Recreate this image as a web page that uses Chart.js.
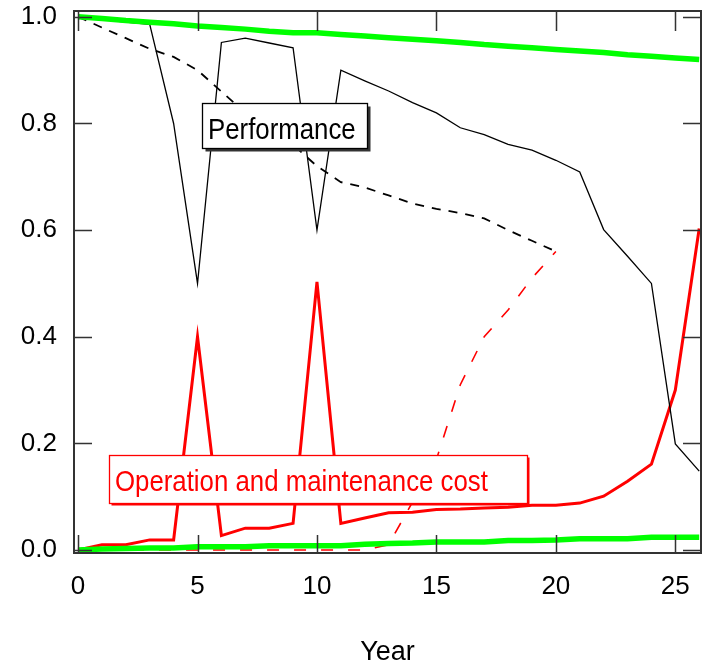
<!DOCTYPE html>
<html>
<head>
<meta charset="utf-8">
<script src="https://cdn.jsdelivr.net/npm/chart.js@4.4.1/dist/chart.umd.min.js"></script>
<style>
  html, body { margin: 0; padding: 0; background: #fff; }
</style>
</head>
<body>
<canvas id="chartPerformance" width="706" height="663"></canvas>
<script>
// Axes
const years = [0, 1, 2, 3, 4, 5, 6, 7, 8, 9, 10, 11, 12, 13, 14, 15, 16, 17, 18, 19, 20, 21, 22, 23, 24, 25, 26];
const xTicks = [0, 5, 10, 15, 20, 25];
const yTicks = [0, 0.2, 0.4, 0.6, 0.8, 1.0];
const yTickLabels = ['0.0', '0.2', '0.4', '0.6', '0.8', '1.0'];

// Series
const greenUpper = [1.0, 0.997, 0.993, 0.99, 0.987, 0.983, 0.98, 0.977, 0.973, 0.97, 0.97, 0.967, 0.964, 0.961,
    0.958, 0.955, 0.952, 0.948, 0.945, 0.942, 0.939, 0.936, 0.933, 0.929, 0.926, 0.923, 0.92];
const greenLower = [0.0, 0.002, 0.003, 0.004, 0.004, 0.006, 0.006, 0.006, 0.008, 0.008, 0.008, 0.008, 0.011, 0.012,
    0.013, 0.015, 0.015, 0.015, 0.018, 0.018, 0.019, 0.021, 0.021, 0.021, 0.024, 0.024, 0.024];
const performance = [1.0, 0.995, 0.99, 0.986, 0.80, 0.50, 0.952, 0.96, 0.951, 0.942, 0.60, 0.90, 0.88, 0.861,
    0.839, 0.82, 0.792, 0.779, 0.761, 0.75, 0.731, 0.709, 0.601, 0.551, 0.50, 0.199, 0.148];
const performanceDashed = [1.0, 0.98, 0.96, 0.94, 0.925, 0.90, 0.86, 0.82, 0.79, 0.76, 0.72, 0.69, 0.68, 0.665,
    0.65, 0.64, 0.632, 0.622, 0.60, 0.58, 0.56];
const omCost = [0.0, 0.01, 0.01, 0.019, 0.019, 0.40, 0.027, 0.041, 0.041, 0.05, 0.503, 0.05, 0.06, 0.07,
    0.071, 0.076, 0.077, 0.079, 0.08, 0.084, 0.084, 0.088, 0.101, 0.129, 0.161, 0.30, 0.603];
const omCostDashed = [0, 0, 0, 0, 0, 0, 0, 0, 0, 0, 0, 0, 0, 0.01, 0.09, 0.17, 0.31, 0.40, 0.45, 0.51, 0.56];

const labelFont = "'Liberation Sans', Arial, sans-serif";

// Zones de texte dans le graphique
const textBoxes = [
    { text: 'Performance', x: 5.18, y: 0.839, w: 165, h: 45, color: '#000000', shadow: '#333333', offset: 3 },
    { text: 'Operation and maintenance cost', x: 1.31, y: 0.179, w: 418, h: 48, color: '#ff0000', shadow: '#ff0000', offset: 2 }
];

function toPoints(values) {
    return values.map((v, i) => ({ x: years[i], y: v }));
}

// Cadre + graduations vers l'intérieur
const framePlugin = {
    id: 'frame',
    afterDatasetsDraw(chart) {
        const { ctx, chartArea: a, scales } = chart;
        ctx.save();
        ctx.strokeStyle = '#333333';
        ctx.lineWidth = 1.5;
        ctx.beginPath();
        xTicks.forEach(v => {
            const px = Math.round(scales.x.getPixelForValue(v)) + 0.5;
            ctx.moveTo(px, a.bottom);
            ctx.lineTo(px, a.bottom - 18);
            ctx.moveTo(px, a.top);
            ctx.lineTo(px, a.top + 20);
        });
        yTicks.forEach(v => {
            const py = Math.round(scales.y.getPixelForValue(v)) + 0.5;
            ctx.moveTo(a.left, py);
            ctx.lineTo(a.left + 18, py);
            ctx.moveTo(a.right, py);
            ctx.lineTo(a.right - 18, py);
        });
        ctx.stroke();
        ctx.lineWidth = 2;
        ctx.strokeRect(a.left, a.top, a.right - a.left, a.bottom - a.top);

        // text boxes (police condensée comme l'original)
        textBoxes.forEach(b => {
            const bx = Math.round(scales.x.getPixelForValue(b.x)) + 0.5;
            const by = Math.round(scales.y.getPixelForValue(b.y)) + 0.5;
            ctx.fillStyle = b.shadow;
            ctx.fillRect(bx + b.offset, by + b.offset, b.w, b.h);
            ctx.fillStyle = '#ffffff';
            ctx.fillRect(bx, by, b.w, b.h);
            ctx.strokeStyle = b.color;
            ctx.lineWidth = 1.3;
            ctx.strokeRect(bx, by, b.w, b.h);
            ctx.save();
            ctx.translate(bx + 5.5, by + 35);
            ctx.scale(0.86, 1);
            ctx.font = '30px ' + labelFont;
            ctx.textBaseline = 'alphabetic';
            ctx.textAlign = 'left';
            ctx.fillStyle = b.color;
            ctx.fillText(b.text, 0, 0);
            ctx.restore();
        });
        ctx.restore();
    }
};

const canvas = document.getElementById('chartPerformance');

new Chart(canvas, {
    type: 'line',
    data: {
        datasets: [
            { data: toPoints(greenUpper), borderColor: '#00ff00', borderWidth: 5.5 },
            { data: toPoints(greenLower), borderColor: '#00ff00', borderWidth: 5.5 },
            { data: toPoints(performance), borderColor: '#000000', borderWidth: 1.3 },
            { data: toPoints(performanceDashed), borderColor: '#000000', borderWidth: 1.8, borderDash: [9, 8] },
            { data: toPoints(omCost), borderColor: '#ff0000', borderWidth: 3 },
            { data: toPoints(omCostDashed), borderColor: '#ff0000', borderWidth: 1.6, borderDash: [12, 15] }
        ]
    },
    options: {
        responsive: false,
        animation: false,
        devicePixelRatio: 1,
        layout: { padding: { top: 11, right: 5, left: 0, bottom: 0 } },
        elements: {
            point: { radius: 0 },
            line: { tension: 0, fill: false, borderCapStyle: 'butt', borderJoinStyle: 'miter' }
        },
        plugins: {
            legend: { display: false },
            tooltip: { enabled: false }
        },
        scales: {
            x: {
                type: 'linear',
                min: -0.17,
                max: 26.075,
                grid: { display: false },
                border: { display: false },
                afterBuildTicks: scale => { scale.ticks = xTicks.map(v => ({ value: v })); },
                afterFit: scale => {
                    scale.height = 110;
                    scale.paddingLeft = 0;
                    scale.paddingRight = 0;
                },
                ticks: {
                    color: '#000',
                    padding: 10,
                    maxRotation: 0,
                    font: { family: labelFont, size: 26 },
                    callback: v => String(v)
                },
                title: {
                    display: true,
                    text: 'Year',
                    color: '#000',
                    padding: 0,
                    font: { family: labelFont, size: 27, lineHeight: 0.8 }
                }
            },
            y: {
                min: -0.0056,
                max: 1.011,
                grid: { display: false },
                border: { display: false },
                afterBuildTicks: scale => { scale.ticks = yTicks.map(v => ({ value: v })); },
                afterFit: scale => {
                    scale.width = 74;
                    scale.paddingTop = 0;
                    scale.paddingBottom = 0;
                },
                ticks: {
                    color: '#000',
                    padding: 9,
                    font: { family: labelFont, size: 26 },
                    callback: (v, i) => yTickLabels[i]
                }
            }
        }
    },
    plugins: [framePlugin]
});
</script>
</body>
</html>
